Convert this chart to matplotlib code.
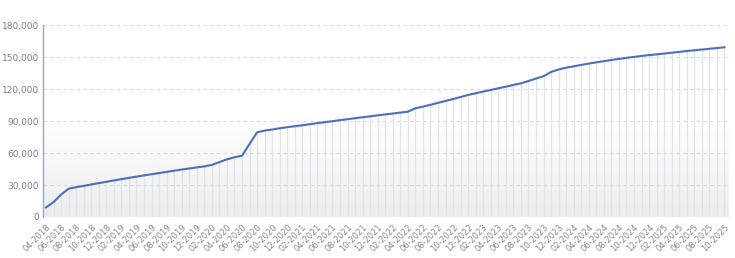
import matplotlib
matplotlib.use("Agg")
import matplotlib.pyplot as plt
import numpy as np

months = []
for y in range(2018, 2026):
    for m in range(1, 13):
        if (y == 2018 and m < 4) or (y == 2025 and m > 10):
            continue
        months.append(f"{m:02d}-{y}")

values = [
    9000, 14000, 21000, 26500, 28000, 29200, 30500, 31800, 33000, 34300,
    35500, 36700, 37800, 39000, 40100, 41200, 42300, 43400, 44500, 45500,
    46500, 47500, 48800, 51500, 54000, 56000, 57500, 68500, 79400, 81000,
    82000, 83200, 84200, 85100, 86000, 87000, 88000, 88900, 89800, 90800,
    91700, 92600, 93500, 94400, 95300, 96200, 97000, 97900, 98700, 101900,
    103500, 105200, 107000, 108800, 110600, 112500, 114400, 116000, 117600, 119100,
    120700, 122200, 123800, 125300, 127500, 129800, 132000, 136000, 138300, 140000,
    141300, 142600, 143800, 145000, 146100, 147200, 148200, 149200, 150100, 151000,
    151800, 152500, 153200, 154000, 154800, 155600, 156300, 157000, 157700, 158400,
    159100,
]

y_ticks = [0, 30000, 60000, 90000, 120000, 150000, 180000]

fig = plt.figure(figsize=(7.35, 2.58), dpi=100)
ax = fig.add_axes([43/735, 41/258, 686/735, 192/258])

x = np.arange(len(values))
xmin, xmax = -0.4, len(values) - 1 + 0.6
ymin, ymax = 0, 180000

# gradient background
grad = np.linspace(0, 1, 256).reshape(-1, 1)
from matplotlib.colors import LinearSegmentedColormap
cmap = LinearSegmentedColormap.from_list("g", ["#ffffff", "#ffffff", "#ededed"])
ax.imshow(grad, aspect="auto", cmap=cmap, extent=[xmin, xmax, ymin, ymax],
          origin="upper", zorder=0)

ax.set_xlim(xmin, xmax)
ax.set_ylim(ymin, ymax)

for yt in y_ticks[1:]:
    ax.axhline(yt, color="#d9d9d9", lw=0.8, ls=(0, (3, 3)), zorder=1)

ax.vlines(x, 0, values, color="#dfe3ec", lw=0.9, zorder=2)
ax.plot(x, values, color="#4a6fbe", lw=1.5, zorder=3)

ax.set_yticks(y_ticks)
ax.set_yticklabels([f"{v:,}" for v in y_ticks], fontsize=6.5, color="#7f7f7f")
ax.set_xticks(x[::2])
ax.set_xticklabels(months[::2], rotation=45, ha="right", rotation_mode="anchor",
                   fontsize=6, color="#8a8a8a")
ax.tick_params(axis="both", length=0, pad=3)
ax.tick_params(axis="x", pad=4)

for s in ["top", "right", "bottom"]:
    ax.spines[s].set_visible(False)
ax.spines["left"].set_color("#8eaadb")
ax.spines["left"].set_linewidth(1.0)

fig.savefig("out.png", dpi=100)
